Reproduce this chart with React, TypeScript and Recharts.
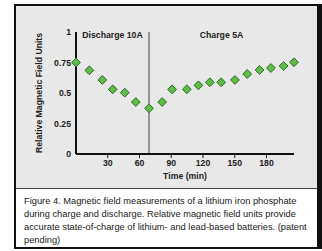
import React from 'react';
import {
  ScatterChart,
  Scatter,
  XAxis,
  YAxis,
  ReferenceLine,
  ReferenceArea,
} from 'recharts';

// time in minutes, relative magnetic field units
const timeMin = [0, 12.6, 24.9, 34.7, 46.1, 56.5, 69, 81.4, 90.8, 104.7, 115.7, 126.5, 137.2, 150.2, 161.8, 173.5, 184.2, 196.2, 206];
const fieldUnits = [0.75, 0.686, 0.607, 0.53, 0.503, 0.426, 0.375, 0.426, 0.53, 0.53, 0.563, 0.588, 0.588, 0.607, 0.656, 0.689, 0.705, 0.721, 0.752];
const xTicks = [30, 60, 90, 120, 150, 180];
const yTicks = [0, 0.25, 0.5, 0.75, 1];
const switchTime = 69;
const endTime = 206;

const data = timeMin.map((t, i) => ({ t, v: fieldUnits[i] }));

const FONT = '"Liberation Sans", Arial, sans-serif';
const tickStyle = { fontSize: 8.7, fontWeight: 700, fill: '#222', fontFamily: FONT };

const Diamond = (props: any) => {
  const { cx, cy } = props;
  const r = 4.4;
  return (
    <polygon
      points={`${cx},${cy - r} ${cx + r},${cy} ${cx},${cy + r} ${cx - r},${cy}`}
      fill="#5fbd47"
      stroke="#2d6a28"
      strokeWidth={1}
    />
  );
};

export default function App() {
  return (
    <div style={{ position: 'absolute', left: 0, top: 0, width: 322, height: 251, background: '#fff', overflow: 'hidden' }}>
      {/* frame */}
      <div
        style={{
          position: 'absolute',
          left: 14,
          top: 4,
          width: 308,
          height: 245,
          boxSizing: 'border-box',
          borderStyle: 'solid',
          borderColor: '#111',
          borderWidth: '2px 5px 2px 2px',
          background: '#fff',
        }}
      />
      <div style={{ position: 'absolute', left: 16, top: 6, width: 301, height: 182, background: '#e8e8e8' }} />
      <div style={{ position: 'absolute', left: 16, top: 188, width: 301, height: 1, background: '#444' }} />

      <div style={{ position: 'absolute', left: 0, top: 0 }}>
        <ScatterChart width={322} height={188} margin={{ top: 32, right: 28, bottom: 0, left: 36 }}>
          <XAxis
            type="number"
            dataKey="t"
            domain={[0, endTime]}
            ticks={xTicks}
            tick={tickStyle}
            tickSize={4}
            tickMargin={2}
            height={34}
            axisLine={{ stroke: '#111', strokeWidth: 2 }}
            tickLine={{ stroke: '#111', strokeWidth: 1 }}
            label={{ value: 'Time (min)', position: 'insideBottom', offset: 9, style: { ...tickStyle } }}
          />
          <YAxis
            type="number"
            dataKey="v"
            domain={[0, 1]}
            ticks={yTicks}
            tick={tickStyle}
            tickSize={3}
            tickMargin={2}
            width={40}
            axisLine={{ stroke: '#111', strokeWidth: 2 }}
            tickLine={false}
            label={{
              value: 'Relative Magnetic Field Units',
              angle: -90,
              position: 'insideLeft',
              offset: 3,
              style: { ...tickStyle, textAnchor: 'middle' },
            }}
          />
          <ReferenceArea
            x1={0}
            x2={switchTime}
            fillOpacity={0}
            strokeOpacity={0}
            label={{ value: 'Discharge 10A', position: 'insideTop', offset: 0, style: tickStyle }}
          />
          <ReferenceArea
            x1={switchTime}
            x2={endTime}
            fillOpacity={0}
            strokeOpacity={0}
            label={{ value: 'Charge 5A', position: 'insideTop', offset: 0, style: tickStyle }}
          />
          <ReferenceLine x={switchTime} stroke="#777" strokeWidth={1.5} />
          <Scatter data={data} shape={<Diamond />} isAnimationActive={false} />
        </ScatterChart>
      </div>

      <div
        style={{
          position: 'absolute',
          left: 24,
          top: 195,
          fontFamily: FONT,
          fontSize: 9.3,
          lineHeight: '13px',
          color: '#1a1a1a',
          whiteSpace: 'nowrap',
        }}
      >
        Figure 4. Magnetic field measurements of a lithium iron phosphate
        <br />
        during charge and discharge. Relative magnetic field units provide
        <br />
        accurate state-of-charge of lithium- and lead-based batteries. (patent
        <br />
        pending)
      </div>
    </div>
  );
}
